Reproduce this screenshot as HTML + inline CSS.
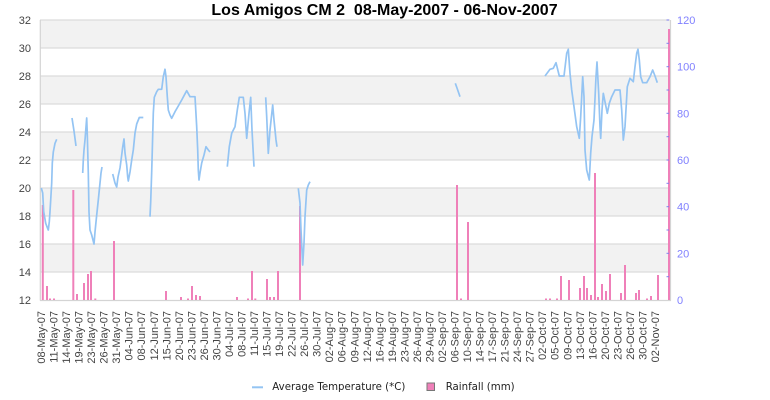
<!DOCTYPE html>
<html><head><meta charset="utf-8"><style>
html,body{margin:0;padding:0;background:#fff;}
svg{display:block;}
</style></head><body>
<svg width="770" height="400" viewBox="0 0 770 400" xmlns="http://www.w3.org/2000/svg">
<rect x="0" y="0" width="770" height="400" fill="#fff"/>
<!-- bands -->
<g fill="#f2f2f2">
<rect x="40" y="20" width="630" height="28"/>
<rect x="40" y="76" width="630" height="28"/>
<rect x="40" y="132" width="630" height="28"/>
<rect x="40" y="188" width="630" height="28"/>
<rect x="40" y="244" width="630" height="28"/>
</g>
<g stroke="#dcdcdc" stroke-width="1.2">
<line x1="40" y1="20" x2="670" y2="20"/>
<line x1="40" y1="48" x2="670" y2="48"/>
<line x1="40" y1="76" x2="670" y2="76"/>
<line x1="40" y1="104" x2="670" y2="104"/>
<line x1="40" y1="132" x2="670" y2="132"/>
<line x1="40" y1="160" x2="670" y2="160"/>
<line x1="40" y1="188" x2="670" y2="188"/>
<line x1="40" y1="216" x2="670" y2="216"/>
<line x1="40" y1="244" x2="670" y2="244"/>
<line x1="40" y1="272" x2="670" y2="272"/>
</g>
<g stroke="#d4d4d4" stroke-width="1.2">
<line x1="40.3" y1="20" x2="40.3" y2="300.5"/>
<line x1="670.5" y1="20" x2="670.5" y2="300.5"/>
<line x1="40" y1="300.5" x2="671" y2="300.5"/>
</g>

<!-- rainfall bars -->
<g fill="#ef80b9">
<rect x="41.8" y="205" width="2" height="95"/>
<rect x="46" y="286" width="2" height="14"/>
<rect x="49" y="298.5" width="2" height="1.5"/>
<rect x="53" y="298.5" width="2" height="1.5"/>
<rect x="72.3" y="190" width="2" height="110"/>
<rect x="76" y="294" width="2" height="6"/>
<rect x="83" y="283" width="2" height="17"/>
<rect x="87" y="274" width="2" height="26"/>
<rect x="90" y="271" width="2" height="29"/>
<rect x="94.3" y="298.5" width="2" height="1.5"/>
<rect x="113" y="241" width="2" height="59"/>
<rect x="165" y="291" width="2" height="9"/>
<rect x="180" y="297" width="2" height="3"/>
<rect x="187" y="298.5" width="2" height="1.5"/>
<rect x="191" y="286" width="2" height="14"/>
<rect x="195" y="295" width="2" height="5"/>
<rect x="199" y="296" width="2" height="4"/>
<rect x="236" y="297" width="2" height="3"/>
<rect x="247" y="298.5" width="2" height="1.5"/>
<rect x="251" y="271" width="2" height="29"/>
<rect x="254.3" y="298.5" width="2" height="1.5"/>
<rect x="266" y="279" width="2" height="21"/>
<rect x="269" y="297" width="2" height="3"/>
<rect x="273" y="297" width="2" height="3"/>
<rect x="277" y="271" width="2" height="29"/>
<rect x="299" y="206" width="2" height="94"/>
<rect x="456" y="185" width="2" height="115"/>
<rect x="460" y="298.5" width="2" height="1.5"/>
<rect x="467" y="222" width="2" height="78"/>
<rect x="545" y="298.5" width="2" height="1.5"/>
<rect x="549" y="298.5" width="2" height="1.5"/>
<rect x="556" y="298.5" width="2" height="1.5"/>
<rect x="560" y="276" width="2" height="24"/>
<rect x="568" y="280" width="2" height="20"/>
<rect x="579" y="288" width="2" height="12"/>
<rect x="583" y="276" width="2" height="24"/>
<rect x="586" y="288" width="2" height="12"/>
<rect x="590" y="295" width="2" height="5"/>
<rect x="594" y="173" width="2" height="127"/>
<rect x="597" y="297" width="2" height="3"/>
<rect x="601" y="284" width="2" height="16"/>
<rect x="605" y="291" width="2" height="9"/>
<rect x="609" y="274" width="2" height="26"/>
<rect x="620" y="293" width="2" height="7"/>
<rect x="624" y="265" width="2" height="35"/>
<rect x="635" y="293" width="2" height="7"/>
<rect x="638" y="290" width="2" height="10"/>
<rect x="646" y="298.5" width="2" height="1.5"/>
<rect x="650" y="296" width="2" height="4"/>
<rect x="657" y="275" width="2" height="25"/>
<rect x="668" y="29" width="2" height="271"/>
</g>

<!-- temperature -->
<g fill="none" stroke="#94c4f3" stroke-width="1.7" stroke-linejoin="round">
<polyline points="41.3,188 42.7,193 43.7,211.7 45.7,223.3 46.7,226 48.3,230 49.3,221.7 50,211.7 50.7,200 51.7,183 52.3,163 53.3,152 55,143.3 56.7,139.3"/>
<polyline points="72,118 74,131 76,146"/>
<polyline points="82.7,173 83.3,160 84,150 85,140 86,127 86.7,118 87.3,135 88.3,173 89,212 90,230 91.7,235 94,244 95,232 96.7,215 98.3,200 100,183 101,173 102,167"/>
<polyline points="112.7,174 115,183 116.7,187 118,177 120,168 121.7,155 122.7,147 124,139 125,153 126.7,165 127.7,177 128.3,181 130,172 131.7,160 133.3,150 135,133 136.7,124 139.3,117.5 143.3,117.5"/>
<polyline points="150,216.7 150.7,201.7 151.7,171.7 152.3,150 153.3,113 154.3,97.3 156.7,91.7 158.3,89.3 161.7,89.3 163.3,76.7 165,69.3 166,76.7 167.3,96.7 168.3,110 170,115 171.7,118.3 175,111.7 178.3,106 181.7,100 186.7,90.7 190,96.7 195,96.7 196.7,126.7 197.7,150 198.3,170 199,180 200,173 201.7,163 204,155 206,146.7 208.3,150 210,152"/>
<polyline points="227.3,166.7 229.3,146.7 231.7,133.3 235,126.7 237.3,110 239.3,97.3 243.3,97.3 245,113.3 246.7,138.3 249,113.3 250.7,97.3 252,130 254,166.7"/>
<polyline points="265.7,97.3 266.7,116.7 268.3,153.3 270,130 272.7,105 274,120 276,140 277,146.7"/>
<polyline points="298.3,188.3 300,203 301,230 302.7,265 304,243 305,216.7 306.7,190 308.3,185 310,181.7"/>
<polyline points="455.3,83.3 457,88 460,96.7"/>
<polyline points="545,76 550,69.3 553.3,68.3 556,62.7 559.3,76 564,76 566.7,53.3 568.3,49.3 570,73.3 571.7,90 574,106.7 576.7,126.7 579.3,138.3 580.7,116.7 582.7,76.7 584,96.7 585,150 586.7,170 589.3,180 590.7,153 592,136.7 594,120 596,76.7 597,62 598.7,93.3 600,126.7 600.7,138.3 602,110 603.3,93.3 605.3,103.3 607.3,113.3 609.3,103.3 611.7,96.7 615,90 620,90 621.7,110 623.3,140 625,126.7 627.3,86.7 630,78.3 631.7,80 633.3,81.7 635,66.7 636.7,53.3 638,49.3 639.3,60 640.7,76.7 642.7,82.7 646.7,82.7 650,76.7 652.7,70 655,76 657.3,82.7"/>
</g>

<!-- right axis ticks -->
<g stroke="#8080f0" stroke-width="1">
<line x1="666.5" y1="20" x2="669" y2="20"/>
<line x1="666.5" y1="43.3" x2="669" y2="43.3"/>
<line x1="666.5" y1="66.7" x2="669" y2="66.7"/>
<line x1="666.5" y1="90" x2="669" y2="90"/>
<line x1="666.5" y1="113.3" x2="669" y2="113.3"/>
<line x1="666.5" y1="136.7" x2="669" y2="136.7"/>
<line x1="666.5" y1="160" x2="669" y2="160"/>
<line x1="666.5" y1="183.3" x2="669" y2="183.3"/>
<line x1="666.5" y1="206.7" x2="669" y2="206.7"/>
<line x1="666.5" y1="230" x2="669" y2="230"/>
<line x1="666.5" y1="253.3" x2="669" y2="253.3"/>
<line x1="666.5" y1="276.7" x2="669" y2="276.7"/>
</g>

<!-- title -->
<text x="384.5" y="15" text-anchor="middle" font-family="Liberation Sans, Arial, sans-serif" font-size="16" font-weight="bold" fill="#000">Los Amigos CM 2&#160; 08-May-2007 - 06-Nov-2007</text>

<!-- left axis labels -->
<g font-family="Liberation Sans, Arial, sans-serif" font-size="11" fill="#444" text-anchor="end">
<text x="31" y="24">32</text>
<text x="31" y="52">30</text>
<text x="31" y="80">28</text>
<text x="31" y="108">26</text>
<text x="31" y="136">24</text>
<text x="31" y="164">22</text>
<text x="31" y="192">20</text>
<text x="31" y="220">18</text>
<text x="31" y="248">16</text>
<text x="31" y="276">14</text>
<text x="31" y="304">12</text>
</g>
<!-- right axis labels -->
<g font-family="Liberation Sans, Arial, sans-serif" font-size="11" fill="#8080ff" text-anchor="start">
<text x="677" y="24">120</text>
<text x="677" y="70.7">100</text>
<text x="677" y="117.3">80</text>
<text x="677" y="164">60</text>
<text x="677" y="210.7">40</text>
<text x="677" y="257.3">20</text>
<text x="677" y="304">0</text>
</g>

<!-- x labels -->
<g font-family="Liberation Sans, Arial, sans-serif" font-size="11" fill="#444" text-anchor="end">
<text transform="translate(45,311) rotate(-90)">08-May-07</text>
<text transform="translate(57.53,311) rotate(-90)">11-May-07</text>
<text transform="translate(70.06,311) rotate(-90)">14-May-07</text>
<text transform="translate(82.59,311) rotate(-90)">19-May-07</text>
<text transform="translate(95.12,311) rotate(-90)">23-May-07</text>
<text transform="translate(107.65,311) rotate(-90)">26-May-07</text>
<text transform="translate(120.18,311) rotate(-90)">31-May-07</text>
<text transform="translate(132.71,311) rotate(-90)">04-Jun-07</text>
<text transform="translate(145.24,311) rotate(-90)">08-Jun-07</text>
<text transform="translate(157.77,311) rotate(-90)">12-Jun-07</text>
<text transform="translate(170.3,311) rotate(-90)">15-Jun-07</text>
<text transform="translate(182.83,311) rotate(-90)">20-Jun-07</text>
<text transform="translate(195.36,311) rotate(-90)">23-Jun-07</text>
<text transform="translate(207.89,311) rotate(-90)">26-Jun-07</text>
<text transform="translate(220.42,311) rotate(-90)">30-Jun-07</text>
<text transform="translate(232.95,311) rotate(-90)">04-Jul-07</text>
<text transform="translate(245.48,311) rotate(-90)">08-Jul-07</text>
<text transform="translate(258.01,311) rotate(-90)">11-Jul-07</text>
<text transform="translate(270.54,311) rotate(-90)">15-Jul-07</text>
<text transform="translate(283.07,311) rotate(-90)">19-Jul-07</text>
<text transform="translate(295.6,311) rotate(-90)">22-Jul-07</text>
<text transform="translate(308.13,311) rotate(-90)">26-Jul-07</text>
<text transform="translate(320.66,311) rotate(-90)">30-Jul-07</text>
<text transform="translate(333.19,311) rotate(-90)">02-Aug-07</text>
<text transform="translate(345.72,311) rotate(-90)">06-Aug-07</text>
<text transform="translate(358.25,311) rotate(-90)">09-Aug-07</text>
<text transform="translate(370.78,311) rotate(-90)">12-Aug-07</text>
<text transform="translate(383.31,311) rotate(-90)">16-Aug-07</text>
<text transform="translate(395.84,311) rotate(-90)">19-Aug-07</text>
<text transform="translate(408.37,311) rotate(-90)">23-Aug-07</text>
<text transform="translate(420.9,311) rotate(-90)">26-Aug-07</text>
<text transform="translate(433.43,311) rotate(-90)">29-Aug-07</text>
<text transform="translate(445.96,311) rotate(-90)">02-Sep-07</text>
<text transform="translate(458.49,311) rotate(-90)">06-Sep-07</text>
<text transform="translate(471.02,311) rotate(-90)">10-Sep-07</text>
<text transform="translate(483.55,311) rotate(-90)">14-Sep-07</text>
<text transform="translate(496.08,311) rotate(-90)">17-Sep-07</text>
<text transform="translate(508.61,311) rotate(-90)">21-Sep-07</text>
<text transform="translate(521.14,311) rotate(-90)">24-Sep-07</text>
<text transform="translate(533.67,311) rotate(-90)">27-Sep-07</text>
<text transform="translate(546.2,311) rotate(-90)">02-Oct-07</text>
<text transform="translate(558.73,311) rotate(-90)">05-Oct-07</text>
<text transform="translate(571.26,311) rotate(-90)">09-Oct-07</text>
<text transform="translate(583.79,311) rotate(-90)">13-Oct-07</text>
<text transform="translate(596.32,311) rotate(-90)">16-Oct-07</text>
<text transform="translate(608.85,311) rotate(-90)">20-Oct-07</text>
<text transform="translate(621.38,311) rotate(-90)">23-Oct-07</text>
<text transform="translate(633.91,311) rotate(-90)">26-Oct-07</text>
<text transform="translate(646.44,311) rotate(-90)">30-Oct-07</text>
<text transform="translate(658.97,311) rotate(-90)">02-Nov-07</text>
</g>

<!-- legend -->
<line x1="252" y1="387.3" x2="263" y2="387.3" stroke="#94c4f3" stroke-width="2"/>
<text x="272.3" y="389.8" font-family="DejaVu Sans, sans-serif" font-size="10.2" fill="#222">Average Temperature (*C)</text>
<rect x="427" y="383" width="7.5" height="7.5" fill="#ef80b9" stroke="#777" stroke-width="1"/>
<text x="445.7" y="389.8" font-family="DejaVu Sans, sans-serif" font-size="10.2" fill="#222">Rainfall (mm)</text>
</svg>
</body></html>
